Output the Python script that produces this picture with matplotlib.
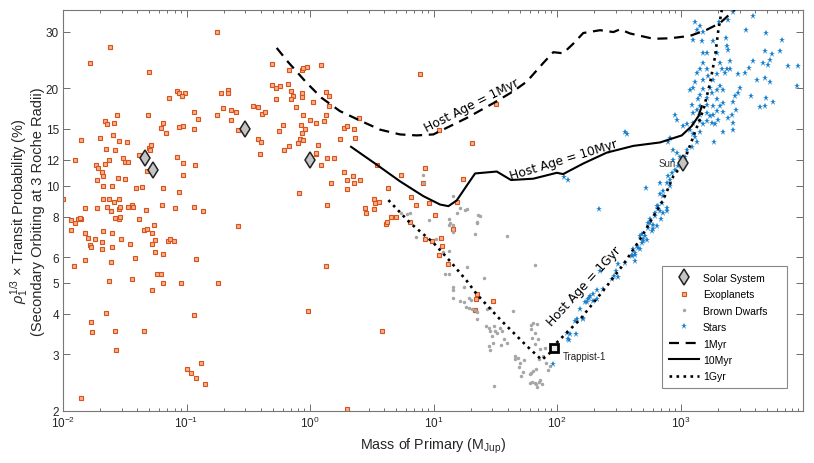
import numpy as np
import matplotlib
matplotlib.use('Agg')
import matplotlib.pyplot as plt
from matplotlib.ticker import FixedLocator, NullLocator, LogLocator, NullFormatter, LogFormatterSciNotation

plt.rcParams['font.family'] = ['Liberation Sans', 'DejaVu Sans']
plt.rcParams['mathtext.fontset'] = 'custom'
plt.rcParams['mathtext.rm'] = 'Liberation Sans'
plt.rcParams['mathtext.it'] = 'Liberation Sans:italic'

# --- data (mass in M_Jup, probability in %) ---
exo_mass = [0.175, 0.024, 0.0166, 0.050, 0.084, 0.087, 0.097, 0.072, 0.092, 0.19, 0.216, 0.216, 0.196, 0.229, 0.25,
            0.175, 0.229, 0.114, 0.124, 0.114, 0.093, 0.087, 0.068, 0.062, 0.064, 0.0488, 0.0272, 0.0219, 0.0228, 0.026,
            0.0254, 0.0198, 0.0141, 0.0282, 0.033, 0.0221, 0.0263, 0.041, 0.0495, 0.0515, 0.0503, 0.0308, 0.0318, 0.0338,
            0.0237, 0.0217, 0.0185, 0.0191, 0.0207, 0.0212, 0.019, 0.0126, 0.01, 0.0248, 0.021, 0.028, 0.0318, 0.039,
            0.0436, 0.0476, 0.083, 0.093, 0.117, 0.094, 0.064, 0.087, 0.021, 0.0237, 0.0284, 0.026, 0.036, 0.063, 0.114,
            0.495, 0.68, 0.86, 0.88, 0.94, 0.495, 0.535, 0.57, 0.66, 0.70, 0.86, 0.73, 0.70, 0.86, 0.535, 0.77, 1.06,
            0.41, 0.43, 0.38, 0.345, 0.88, 1.0, 1.11, 0.60, 0.56, 0.84, 0.91, 0.86, 0.83, 0.87, 0.80, 0.67, 0.61, 1.16,
            1.11, 0.38, 0.40, 0.39, 0.26, 0.82,
            1.23, 7.73, 1.34, 1.43, 1.43, 1.30, 1.34, 1.76, 1.89, 2.0, 2.26, 2.3, 2.5, 1.12, 1.37, 1.57, 1.23, 1.89,
            2.23, 2.55, 2.0, 2.28, 1.48, 1.98, 1.37, 3.5, 5.5, 8.5, 8.2, 4.3, 6.6, 7.2, 9.2, 10.3, 15.6, 17.4, 11.5,
            11.7, 3.3, 3.35, 3.6, 2.8, 3.3, 2.85, 4.5, 5.0, 4.1, 4.2, 6.5, 8.5, 9.8, 11.0, 13.2, 1.34, 20.4, 11.0, 32,
            14.3, 22.4, 22, 30.5, 21.5, 3.8,
            0.0151, 0.0188, 0.0228, 0.0243, 0.0284, 0.029, 0.0338, 0.0366, 0.0467, 0.081, 0.137, 0.26, 0.97, 0.0117,
            0.0125, 0.0133, 0.014, 0.0137, 0.0116, 0.015, 0.0159, 0.0182, 0.0165, 0.0168, 0.0205, 0.0208, 0.0212,
            0.025, 0.025, 0.0293, 0.0349, 0.0263, 0.0283, 0.029, 0.0415, 0.0455, 0.048, 0.055, 0.0525, 0.056, 0.053,
            0.071, 0.0735, 0.079, 0.056, 0.065, 0.038, 0.015, 0.0123, 0.0245, 0.12, 0.058, 0.062, 0.0237, 0.036,
            0.0645, 0.0525, 0.090, 0.18, 0.0221, 0.116, 0.0169, 0.0173, 0.0263, 0.0455, 0.027, 0.13, 0.1, 0.108,
            0.12, 0.14, 0.014, 2.0]
exo_prob = [29.9, 26.8, 24.0, 22.5, 19.7, 19.4, 19.4, 18.7, 18.9, 19.4, 19.8, 19.4, 17.4, 17.2, 16.9,
            16.6, 16.0, 16.9, 16.1, 15.0, 15.3, 15.2, 14.5, 15.1, 15.6, 16.5, 16.6, 15.9, 15.5, 15.6,
            14.3, 14.05, 13.8, 13.7, 13.6, 13.0, 12.9, 12.45, 13.1, 13.4, 12.9, 12.2, 11.8, 11.8,
            12.0, 11.7, 11.6, 11.3, 11.0, 10.7, 10.4, 12.0, 9.05, 10.0, 9.95, 10.55, 10.5, 9.8,
            9.9, 11.1, 12.3, 11.75, 11.6, 10.8, 9.8, 9.55, 9.1, 9.1, 9.1, 8.9, 8.7, 8.7, 8.55,
            23.8, 22.8, 22.8, 23.2, 23.3, 20.5, 20.1, 20.4, 20.7, 19.7, 19.4, 18.9, 18.6, 18.8, 18.6, 17.5, 18.1,
            16.7, 16.9, 17.5, 17.7, 16.5, 16.0, 15.6, 15.4, 14.8, 15.4, 15.0, 14.5, 13.9, 13.8, 13.5, 13.3, 12.9, 13.4,
            12.5, 13.9, 13.6, 12.5, 14.9, 9.5,
            23.7, 22.2, 19.5, 19.0, 17.6, 15.8, 16.5, 13.9, 15.1, 15.3, 15.0, 14.0, 16.2, 12.6, 12.2, 12.2, 11.6, 11.0,
            10.7, 10.4, 10.4, 10.2, 10.2, 9.75, 8.7, 11.6, 10.8, 11.3, 10.2, 9.8, 9.2, 8.7, 8.8, 8.1, 8.9, 10.5, 6.9,
            6.5, 9.1, 8.8, 8.9, 8.5, 8.45, 8.2, 8.0, 8.0, 7.6, 7.7, 7.7, 6.85, 6.75, 6.1, 5.7, 5.65, 13.5, 14.9, 17.9,
            7.35, 4.6, 4.45, 4.4, 4.1, 3.55,
            8.53, 8.53, 8.6, 8.35, 8.45, 8.55, 8.55, 8.55, 8.4, 8.5, 8.33, 7.5, 4.08, 7.8,
            7.66, 7.85, 7.85, 7.95, 7.27, 7.1, 6.9, 6.84, 6.55, 6.45, 6.67, 6.37, 7.24,
            7.15, 6.45, 6.82, 6.6, 7.95, 7.9, 8.0, 7.9, 7.27, 7.35, 7.55, 7.1, 6.8, 6.57,
            6.74, 6.85, 6.75, 6.22, 6.13, 5.98, 5.89, 5.65, 5.8, 5.93, 5.33, 5.32, 5.05, 5.12,
            4.97, 4.75, 4.98, 4.99, 4.02, 3.96, 3.78, 3.52, 3.53, 3.53, 3.10, 2.82, 2.70, 2.63,
            2.54, 2.42, 2.2, 2.03]

bd_mass = [14.3, 16.5, 18.6, 15.6, 13.4, 13.6, 13.3, 9.2, 14.5, 14.5, 23.9, 22.6, 21.6, 39.5, 7.2, 10.5, 13.4, 12.0,
           18.6, 12.4, 13.4, 25.8, 66, 17.5, 14.5, 14.5, 14.3, 16.5, 17.5, 18.4, 19.3, 20.4, 21.6, 22.6, 19.2, 20,
           22.6, 27, 28.4, 44, 26.8, 27.9, 28.4, 30.7, 31.4, 32.5, 34.5, 35.7, 29.5, 30.5, 27.9, 28.4, 37.5, 39.5,
           35, 30.7, 46, 48, 46, 50.5, 54, 61, 64, 69, 62, 66, 63, 70, 66, 49, 53, 51, 60, 62, 64, 68, 60, 63, 66,
           68, 69, 72, 76, 73, 81.5, 88, 85, 77.5, 72, 80, 73, 5.5, 18, 22.4, 6.1, 8.2, 8.3, 23, 6.4]
bd_prob = [9.27, 8.53, 8.47, 8.23, 7.89, 7.66, 7.57, 7.8, 7.52, 7.17, 8.07, 7.72, 7.05, 6.97, 6.92, 6.84, 6.26, 6.22,
           5.58, 5.3, 5.33, 5.18, 5.67, 4.85, 4.83, 4.73, 4.49, 4.38, 4.35, 4.21, 4.18, 4.13, 4.11, 4.05, 4.49, 4.43,
           3.86, 4.13, 4.18, 4.08, 3.68, 3.62, 3.54, 3.66, 3.54, 3.48, 3.62, 3.54, 3.41, 3.26, 3.18, 3.1, 3.34, 3.26,
           3.2, 2.39, 2.97, 2.92, 2.89, 2.82, 2.87, 3.7, 3.75, 3.72, 3.58, 3.5, 3.37, 3.34, 3.22, 2.73, 2.65, 2.57,
           2.6, 2.63, 2.67, 2.7, 2.45, 2.46, 2.44, 2.42, 2.37, 2.46, 2.42, 2.5, 2.82, 2.76, 2.68, 2.96, 2.89, 3.14,
           3.12, 8.23, 8.4, 7.66, 8.18, 10.8, 10.15, 8.1, 8.2]

star_mass = [1309, 1439, 1352, 1531, 2061, 2438, 2673, 3837, 3365, 4920, 6592, 6383, 4831, 5470, 5300, 5140, 4680,
             7460, 8990, 3882, 3563, 2938, 3350, 4130, 4831, 5300, 8710, 3030, 2938, 3740, 4920, 5570, 4395, 4831,
             2760, 2673, 2812, 2594, 2673, 2673, 2223, 1866, 2438, 2193, 1963, 1845, 1901, 2023,
             1270, 1483, 1531, 1629, 1845, 1963, 2333, 2366, 2438, 2089, 2153, 2366, 2518, 2518, 2291, 1963, 1629,
             1531, 1439, 1352, 1309, 1194, 1270, 1531, 1679, 1845, 1734, 1531, 1439, 1393, 1629, 1786, 1963, 2089,
             2223, 1963, 2089, 2223, 1845, 1629, 1439, 1352, 1232, 1270, 1439, 1629, 1734, 1786, 1629, 1531, 1439,
             1270, 1122, 902, 931, 1054, 1194, 1270, 1309, 1439, 1352, 1232, 1122, 1086, 990, 931, 822, 875, 796,
             875, 959, 902, 847, 796, 822, 773, 822, 726, 682, 726, 703, 661, 682, 621, 641, 603, 566, 548, 515,
             500, 484, 455, 428, 402, 682, 773, 355, 366, 525, 220, 114, 123,
             641, 661, 621, 726, 773, 690, 566, 603, 548, 583, 470, 500, 532, 484, 415, 441, 428, 402, 470, 428,
             355, 313, 300, 289, 313, 277, 223, 237, 209, 197, 185, 179, 197, 209, 174, 153, 163, 144, 142, 127,
             123, 120, 93, 124, 140, 161, 169, 183]
star_prob = [32.1, 31.3, 30.4, 29.9, 32.1, 32.7, 34.4, 33.6, 30.4, 29.6, 28.3, 26.2, 26.1, 25.5, 24.5, 23.7, 24.0,
             23.5, 23.4, 24.4, 23.1, 22.2, 22.4, 21.2, 21.6, 20.9, 20.3, 20.0, 19.4, 18.9, 18.7, 18.2, 17.5, 17.6,
             19.0, 18.2, 17.2, 16.5, 15.6, 14.9, 14.7, 13.6, 16.2, 16.9, 17.0, 16.5, 15.5, 16.0,
             28.2, 28.0, 25.8, 25.8, 28.0, 25.8, 28.6, 27.0, 26.4, 24.0, 22.9, 22.9, 22.9, 24.4, 22.3, 22.1, 23.0,
             24.0, 22.9, 22.3, 21.0, 19.8, 20.0, 21.3, 21.8, 21.3, 20.0, 19.9, 19.1, 18.5, 18.7, 19.4, 19.8, 20.3,
             19.8, 18.5, 17.6, 18.0, 17.6, 17.8, 17.6, 17.2, 17.8, 16.8, 16.6, 16.8, 16.4, 15.6, 15.8, 15.5, 15.8,
             15.6, 15.5, 16.5, 16.0, 15.3, 14.9, 14.4, 14.1, 14.7, 13.6, 13.2, 12.9, 12.3, 12.3, 12.6, 14.0, 12.9, 13.6,
             12.0, 11.5, 11.2, 10.9, 10.7, 10.4, 10.2, 9.95, 9.6, 10.2, 9.27, 8.83, 8.63, 8.34, 8.04, 7.48, 7.31, 7.85,
             7.67, 6.97, 6.81, 6.65, 6.41, 6.11, 6.04, 9.44, 8.53, 14.7, 14.4, 9.8, 8.47, 10.6, 10.4,
             8.63, 8.43, 8.23, 8.23, 8.33, 7.89, 7.66, 7.52, 7.39, 7.22, 6.96, 6.72, 6.78, 7.05, 6.34, 6.49, 6.19,
             6.11, 6.34, 5.83, 5.77, 5.70, 5.43, 5.24, 5.21, 5.12, 5.43, 4.79, 4.74, 4.60, 4.54, 4.44, 4.39, 4.44,
             4.34, 4.13, 3.89, 3.85, 3.46, 3.46, 3.34, 3.50, 2.79, 3.32, 3.80, 3.85, 4.35, 4.49]

solar_mass = [0.046, 0.054, 0.30, 1.0, 1047]
solar_prob = [12.2, 11.2, 15.0, 12.0, 11.75]

trappist_mass = 95
trappist_prob = 3.14

myr1_mass = [0.537, 0.667, 0.94, 1.24, 1.75, 2.54, 3.69, 5.36, 7.31, 9.96, 12.8, 18.6, 30.5, 44.3, 56.9, 77.5,
             93.3, 112, 135, 163, 223, 286, 324, 390, 603, 822, 1194, 1630, 2089, 2679, 2900]
myr1_prob = [26.7, 24.1, 20.8, 18.7, 17.0, 15.9, 14.9, 14.4, 14.3, 14.4, 15.1, 16.2, 18.0, 19.6, 21.0, 24.0,
             25.9, 25.7, 27.5, 29.7, 30.3, 29.9, 30.5, 29.6, 28.5, 28.6, 29.1, 30.4, 31.9, 34.8, 36.0]

myr10_mass = [2.15, 3.47, 5.36, 8.27, 11.3, 13.2, 15.4, 18.6, 21.7, 32.5, 42.4, 64.3, 99.5, 112, 163, 253, 415,
              682, 1023, 1233, 1394, 1485]
myr10_prob = [13.18, 11.6, 10.3, 9.27, 8.73, 8.63, 8.99, 10.0, 10.9, 11.05, 10.4, 10.5, 10.95, 10.85, 11.7, 12.65,
              13.27, 13.6, 14.3, 15.3, 16.4, 17.6]

gyr1_mass = [4.31, 6.45, 9.96, 13.6, 18.6, 22.4, 34.5, 56.9, 75.2, 87.7, 93.3, 154, 253, 344, 470, 603, 726, 875,
             1054, 1271, 1531, 1734, 1902, 2023, 2157]
gyr1_prob = [9.01, 7.66, 6.65, 5.83, 5.06, 4.60, 3.85, 3.18, 2.88, 3.03, 3.18, 3.85, 4.88, 5.69, 6.81, 8.03, 9.05,
             10.7, 11.75, 14.2, 17.2, 20.8, 25.1, 30.4, 35.0]

yticks = [2, 3, 4, 5, 6, 8, 10, 12, 15, 20, 30]
xticks = [1e-2, 1e-1, 1e0, 1e1, 1e2, 1e3]

fig = plt.figure(figsize=(8.14, 4.64), dpi=100)
ax = fig.add_axes([63 / 814, 52 / 464, 740 / 814, 401 / 464])

ax.plot(exo_mass, exo_prob, 's', ms=2.6, mfc='#f5b08f', mec='#d95319', mew=0.8, label='Exoplanets', zorder=2)
ax.plot(bd_mass, bd_prob, '.', ms=3, color='#a6a6a6', label='Brown Dwarfs', zorder=2)
ax.plot(star_mass, star_prob, '*', ms=5, color='#1a80cc', mew=0, label='Stars', zorder=2)

ax.plot(myr1_mass, myr1_prob, color='k', lw=1.6, ls=(0, (4.5, 3)), label='1Myr', zorder=3)
ax.plot(myr10_mass, myr10_prob, color='k', lw=1.5, ls='-', label='10Myr', zorder=3)
ax.plot(gyr1_mass, gyr1_prob, color='k', lw=1.9, ls=':', label='1Gyr', zorder=3)

ax.plot(solar_mass, solar_prob, 'd', ms=8, mfc='#c4c4c4', mec='#222222', mew=1.1, label='Solar System', zorder=4)
ax.plot([trappist_mass], [trappist_prob], 's', ms=6, mfc='#e8e8e8', mec='k', mew=2, zorder=4)

ax.annotate('Sun', (solar_mass[-1], solar_prob[-1]), xytext=(-5, 0), textcoords='offset points',
            ha='right', va='center', fontsize=7, color='#333333')
ax.annotate('Trappist-1', (trappist_mass, trappist_prob), xytext=(6, -6), textcoords='offset points',
            ha='left', va='center', fontsize=7, color='#222222')

ax.text(20.5, 17.8, 'Host Age = 1Myr', rotation=26.8, ha='center', va='center', fontsize=8.8,
        family='DejaVu Sans', rotation_mode='anchor')
ax.text(114, 12.03, 'Host Age = 10Myr', rotation=17.1, ha='center', va='center', fontsize=8.8,
        family='DejaVu Sans', rotation_mode='anchor')
ax.text(166, 4.9, 'Host Age = 1Gyr', rotation=47.5, ha='center', va='center', fontsize=8.8,
        family='DejaVu Sans', rotation_mode='anchor')

ax.set_xscale('log')
ax.set_yscale('log')
ax.set_xlim(0.01, 9800)
ax.set_ylim(2, 35)
ax.yaxis.set_major_locator(FixedLocator(yticks))
ax.yaxis.set_minor_locator(NullLocator())
ax.set_yticklabels([str(t) for t in yticks])
ax.xaxis.set_major_locator(FixedLocator(xticks))
ax.xaxis.set_major_formatter(LogFormatterSciNotation())
ax.xaxis.set_minor_locator(LogLocator(base=10, subs=np.arange(2, 10), numticks=10))
ax.xaxis.set_minor_formatter(NullFormatter())

for s in ax.spines.values():
    s.set_color('#777777')
    s.set_linewidth(0.8)
ax.tick_params(which='both', direction='in', top=True, right=True, colors='#555555',
               labelcolor='#262626', labelsize=8.5, width=0.6)
ax.tick_params(which='major', length=5, pad=3)
ax.tick_params(which='minor', length=2.5)

ax.set_xlabel('Mass of Primary (M$_{\\mathrm{Jup}}$)', fontsize=10.3, color='#262626', labelpad=4)
ax.set_ylabel('$\\rho_1^{1/3}$ \u00d7 Transit Probability (%)\n(Secondary Orbiting at 3 Roche Radii)',
              fontsize=10.5, color='#262626', linespacing=1.15)
ax.yaxis.set_label_coords(-0.024, 0.5)

h, l = ax.get_legend_handles_labels()
order = ['Solar System', 'Exoplanets', 'Brown Dwarfs', 'Stars', '1Myr', '10Myr', '1Gyr']
hd = dict(zip(l, h))
leg = ax.legend([hd[k] for k in order], order, loc='lower left', bbox_to_anchor=(0.803, 0.045, 0.182, 0.3),
                mode='expand', fontsize=7.5, handlelength=2.9, handletextpad=0.4, labelspacing=0.62,
                borderpad=0.6, fancybox=False, framealpha=1, edgecolor='#888888')
leg.get_frame().set_linewidth(0.8)

fig.savefig('out.png', dpi=100)
